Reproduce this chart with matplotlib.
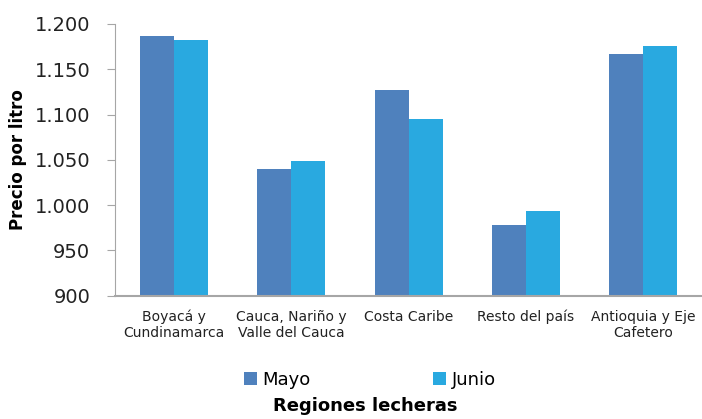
import matplotlib.pyplot as plt
import numpy as np
from matplotlib.ticker import FuncFormatter

# datos (precio por litro)
regiones = ['Boyacá y\nCundinamarca', 'Cauca, Nariño y\nValle del Cauca', 'Costa Caribe',
            'Resto del país', 'Antioquia y Eje\nCafetero']
mayo = [1187, 1040, 1127, 978, 1167]
junio = [1182, 1049, 1095, 994, 1176]
yticks = [900, 950, 1000, 1050, 1100, 1150, 1200]

plt.rcParams['font.family'] = ['DejaVu Sans']

fig = plt.figure(figsize=(7.02, 4.19), dpi=100)
ax = fig.add_axes([0.164, 0.294, 0.836, 0.649])

x = np.arange(len(regiones))
w = 0.29
ax.bar(x - w / 2, mayo, w, color='#4F81BD', label='Mayo')
ax.bar(x + w / 2, junio, w, color='#29A9E0', label='Junio')

ax.set_xlim(-0.5, len(regiones) - 0.5)
ax.set_ylim(900, 1200)
ax.set_yticks(yticks)
ax.yaxis.set_major_formatter(FuncFormatter(lambda v, p: f'{int(v):,}'.replace(',', '.')))
ax.tick_params(axis='y', labelsize=14, length=6, pad=12, color='#A6A6A6', labelcolor='#222222')
ax.set_xticks(x)
ax.set_xticklabels(regiones, fontsize=10, color='#222222')
ax.tick_params(axis='x', length=0, pad=10)

for s in ['top', 'right']:
    ax.spines[s].set_visible(False)
ax.spines['left'].set_color('#A6A6A6')
ax.spines['bottom'].set_color('#A6A6A6')
ax.spines['bottom'].set_linewidth(1.5)

fig.text(0.025, 0.62, 'Precio por litro', rotation=90, ha='center', va='center',
         fontsize=12, fontweight='bold')

fig.legend(loc='center', bbox_to_anchor=(0.527, 0.093), ncol=2, frameon=False,
           fontsize=13, handlelength=0.7, handleheight=0.7, handletextpad=0.3,
           columnspacing=6.8)
fig.text(0.52, 0.03, 'Regiones lecheras', ha='center', va='center',
         fontsize=13, fontweight='bold')

fig.savefig('out.png', dpi=100)
